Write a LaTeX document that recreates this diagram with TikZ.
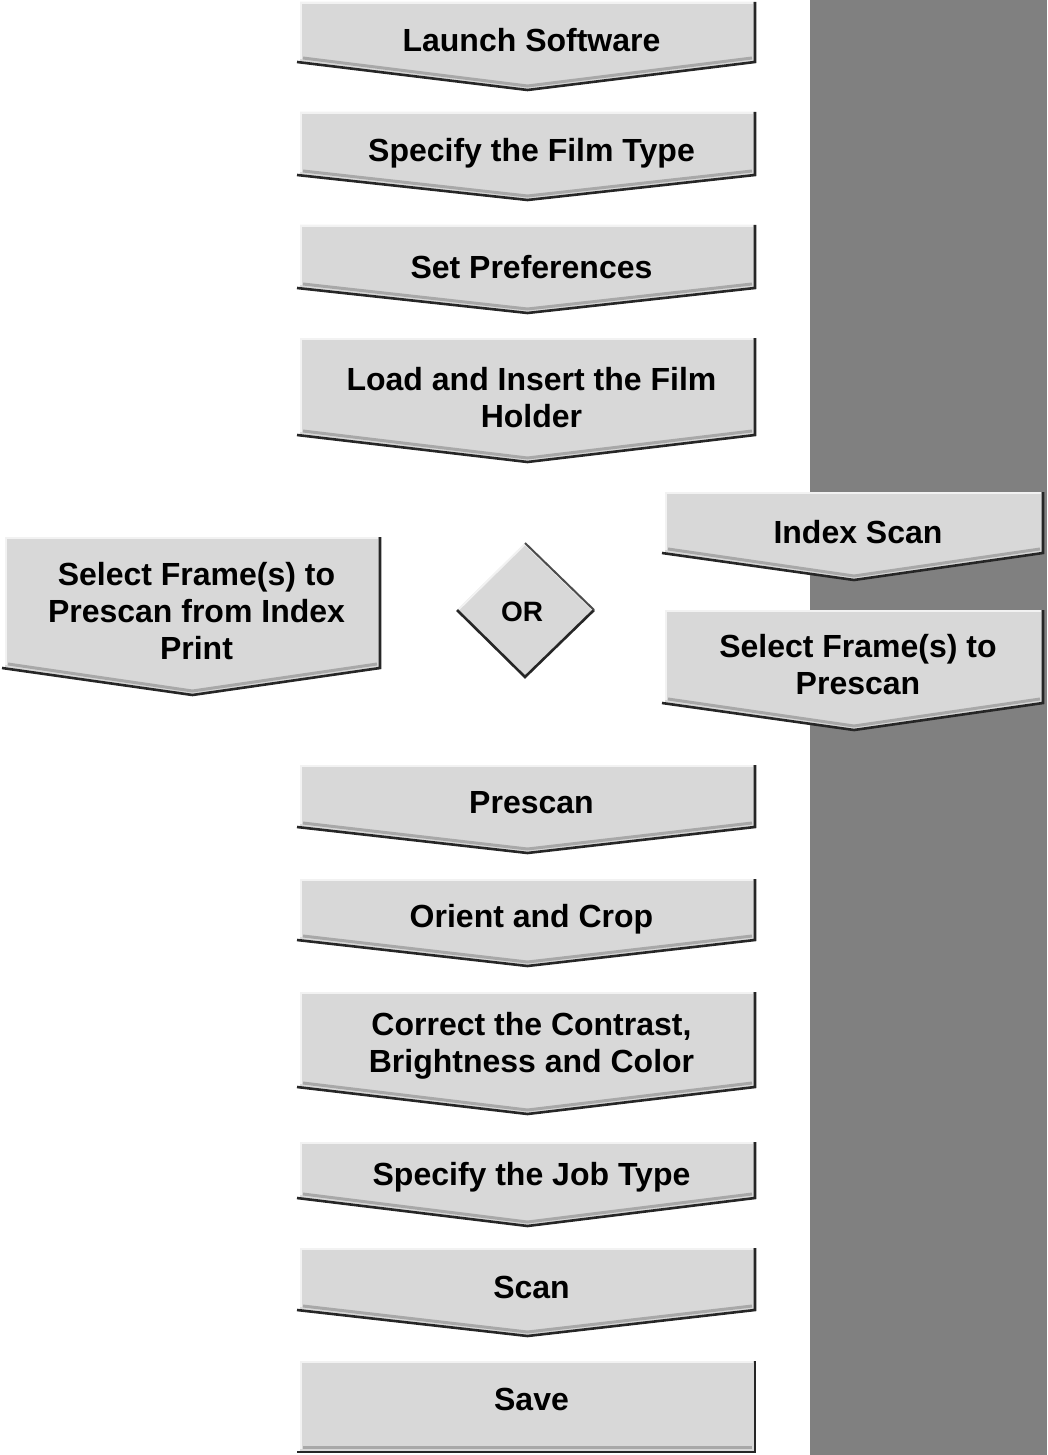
\documentclass[tikz,border=0pt]{standalone}
\usepackage{fontspec}
\setmainfont{Liberation Sans}
\definecolor{boxfill}{HTML}{D8D8D8}
\definecolor{bandgray}{HTML}{808080}
\definecolor{hi}{HTML}{F2F2F2}
\definecolor{mid}{HTML}{A8A8A8}
\tikzset{
  boxbody/.style={fill=boxfill},
  hilite/.style={draw=hi,line width=2pt},
  midshade/.style={draw=mid,line width=3pt},
  darkedge/.style={draw=black!85,line width=2.6pt,line join=miter},
  lbl/.style={font=\fontsize{32}{37}\selectfont\bfseries,align=center,inner sep=0pt}
}
% #1 name, #2 xl, #3 xr, #4 top, #5 side bottom, #6 apex, #7 text centre y, #8 text
\newcommand\chev[8]{%
  \pgfmathsetmacro\xm{(#2+#3)/2}
  \fill[boxbody] (#2,-#4) -- (#3,-#4) -- (#3,-#5) -- (\xm,-#6) -- (#2,-#5) -- cycle;
  \draw[hilite] (#2+1,-#5+3) -- (#2+1,-#4-1) -- (#3-2,-#4-1);
  \draw[midshade] (#2+3,-#5+4) -- (\xm,-#6+4) -- (#3-3,-#5+4);
  \draw[darkedge] (#2-3,-#5) -- (\xm,-#6) -- (#3,-#5) -- (#3,-#4);
  \node[lbl] (#1) at (\xm+4,-#7) {#8};
}
\begin{document}
\begin{tikzpicture}[x=1pt,y=1pt]
\useasboundingbox (0,0) rectangle (1047,-1455);
\fill[bandgray] (810,0) rectangle (1047,-1455);

\chev{launch}{300}{755}{2}{62}{90}{40}{Launch Software}
\chev{film}{300}{755}{112}{175}{200}{153}{Specify the Film Type}
\chev{prefs}{300}{755}{225}{288}{313}{267}{Set Preferences}
\chev{load}{300}{755}{338}{435}{462}{398}{Load and Insert the Film\\Holder}
\chev{selidx}{5}{380}{537}{668}{695}{611}{Select Frame(s) to\\Prescan from Index\\Print}
\chev{index}{665}{1043}{492}{553}{580}{532}{Index Scan}
\chev{selpre}{665}{1043}{610}{703}{730}{665}{Select Frame(s) to\\Prescan}
\chev{prescan}{300}{755}{765}{827}{853}{803}{Prescan}
\chev{orient}{300}{755}{879}{940}{966}{919}{Orient and Crop}
\chev{correct}{300}{755}{992}{1087}{1114}{1046}{Correct the Contrast,\\Brightness and Color}
\chev{job}{300}{755}{1142}{1198}{1226}{1177}{Specify the Job Type}
\chev{scan}{300}{755}{1248}{1310}{1336}{1287}{Scan}

% Save (plain rectangle)
\fill[boxbody] (300,-1361) rectangle (755,-1452);
\draw[hilite] (301,-1449) -- (301,-1362) -- (753,-1362);
\draw[midshade] (303,-1447) -- (752,-1447);
\draw[darkedge] (297,-1452) -- (755,-1452) -- (755,-1361);
\node[lbl] (save) at (531.5,-1399) {Save};

% OR diamond
\fill[boxbody] (525,-543) -- (594,-610) -- (525,-677) -- (457,-610) -- cycle;
\draw[hilite] (458,-610) -- (525,-544) -- (593,-610);
\draw[darkedge] (457,-610) -- (525,-677) -- (594,-610);
\draw[draw=black!70,line width=2pt] (525,-543) -- (594,-610);
\node[lbl,font=\fontsize{28}{30}\selectfont\bfseries] (or) at (522,-612) {OR};
\end{tikzpicture}
\end{document}
